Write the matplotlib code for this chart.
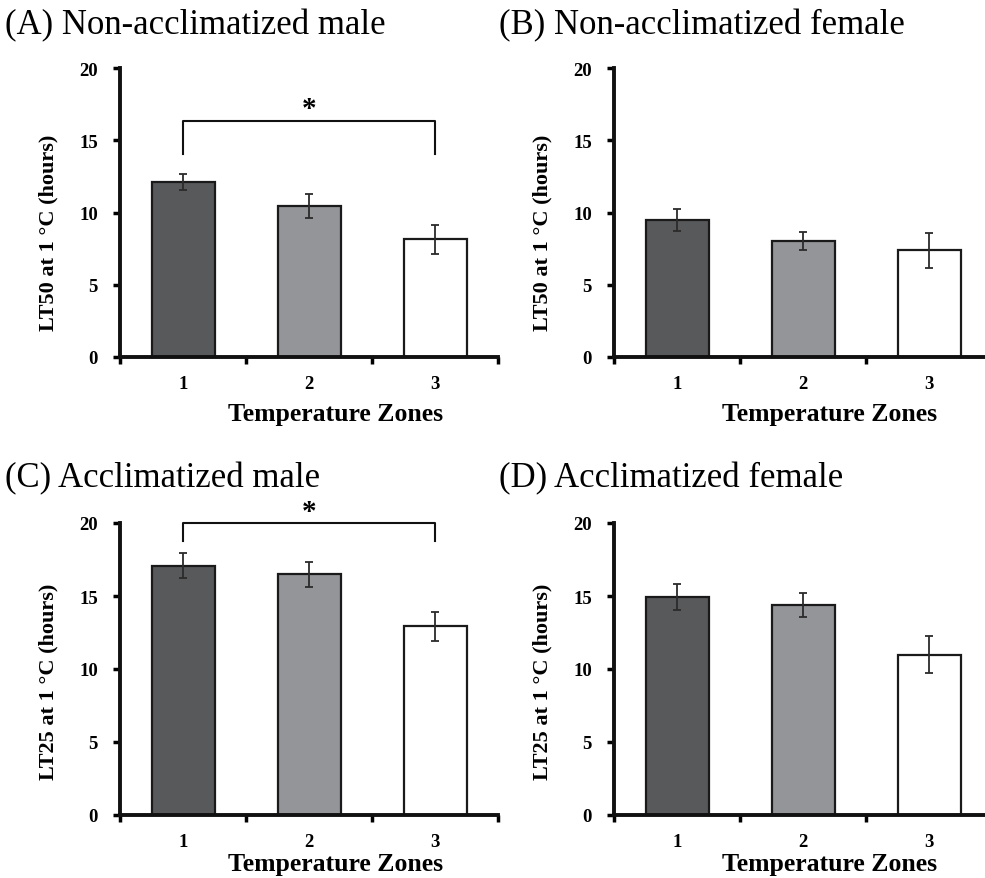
import matplotlib
matplotlib.use("Agg")
import matplotlib.pyplot as plt
from matplotlib.ticker import FixedLocator

# ---- data ----
zones = ["1", "2", "3"]
titles = ["(A) Non-acclimatized male", "(B) Non-acclimatized female",
          "(C) Acclimatized male", "(D) Acclimatized female"]
ylabels = ["LT50 at 1 \u00b0C (hours)", "LT50 at 1 \u00b0C (hours)",
           "LT25 at 1 \u00b0C (hours)", "LT25 at 1 \u00b0C (hours)"]
a_means = [12.1, 10.45, 8.15]
a_err = [0.55, 0.83, 1.0]
b_means = [9.5, 8.03, 7.38]
b_err = [0.77, 0.63, 1.2]
c_means = [17.07, 16.48, 12.92]
c_err = [0.85, 0.85, 0.98]
d_means = [14.95, 14.38, 10.98]
d_err = [0.9, 0.82, 1.28]
yticks = [0, 5, 10, 15, 20]
xlabel = "Temperature Zones"
# significance brackets: (panel index, left zone, right zone, leg bottom, top, star y)
brackets = [(0, 1, 3, 14.05, 16.3, 17.2), (2, 1, 3, 18.8, 20.0, 20.8)]

bar_colors = ["#58595b", "#939598", "#ffffff"]

plt.rcParams['font.family'] = ['Liberation Serif', 'DejaVu Serif']

W, H = 985, 879
fig = plt.figure(figsize=(W / 100, H / 100), dpi=100)

panels = [(a_means, a_err), (b_means, b_err), (c_means, c_err), (d_means, d_err)]
# axes positions in pixels: left, top, bottom
pos = [(120, 69, 358), (614, 69, 358), (120, 524, 816), (614, 524, 816)]
title_pos = [(5, 26), (499, 26), (5, 479), (499, 479)]
xlabel_top = [403, 403, 853, 853]
ylabel_center = [233, 233, 682, 682]
axw = 378

axes = []
for i, ((means, err), (l, t, b)) in enumerate(zip(panels, pos)):
    ax = fig.add_axes([l / W, (H - b) / H, axw / W, (b - t) / H])
    axes.append(ax)
    x = [1, 2, 3]
    ax.bar(x, means, width=0.5, color=bar_colors, edgecolor="#1a1a1a",
           linewidth=1.6, zorder=2)
    ax.errorbar(x, means, yerr=err, fmt="none", ecolor="#2b2b2b",
                elinewidth=1.3, capsize=3, capthick=1.3, zorder=3)
    ax.set_xlim(0.5, 3.5)
    ax.set_ylim(0, 20)
    ax.set_yticks(yticks)
    ax.set_yticklabels([str(v) for v in yticks], fontweight="bold", fontsize=13.5)
    ax.set_xticks(x)
    ax.set_xticklabels(zones, fontweight="bold", fontsize=13.5)
    ax.xaxis.set_minor_locator(FixedLocator([0.5, 1.5, 2.5, 3.5]))
    ax.tick_params(axis="x", which="major", length=0, pad=13)
    ax.tick_params(axis="x", which="minor", length=5, width=2.5, direction="out")
    ax.tick_params(axis="y", which="major", length=5, width=2.5, direction="out", pad=11)
    for s in ["top", "right"]:
        ax.spines[s].set_visible(False)
    for s in ["left", "bottom"]:
        ax.spines[s].set_linewidth(2.8)
        ax.spines[s].set_color("#111111")
    ax.set_ylabel(ylabels[i], fontweight="bold", fontsize=16)
    ax.yaxis.set_label_coords(-62 / axw, (b - ylabel_center[i]) / (b - t))
    ax.set_xlabel(xlabel, fontweight="bold", fontsize=18.5)
    ax.xaxis.set_label_coords(216 / axw, -(xlabel_top[i] - b) / (b - t))
    tx, ty = title_pos[i]
    fig.text(tx / W, 1 - ty / H, titles[i], fontsize=25, va="center", ha="left")

for (pi, x1, x2, yb, yt, ys) in brackets:
    ax = axes[pi]
    ax.plot([x1, x1, x2, x2], [yb, yt, yt, yb], color="#111111", lw=1.5,
            clip_on=False, zorder=4)
    ax.text((x1 + x2) / 2, ys, "*", ha="center", va="center", fontsize=21,
            fontweight="bold", clip_on=False)

fig.savefig("out.png", dpi=100)
